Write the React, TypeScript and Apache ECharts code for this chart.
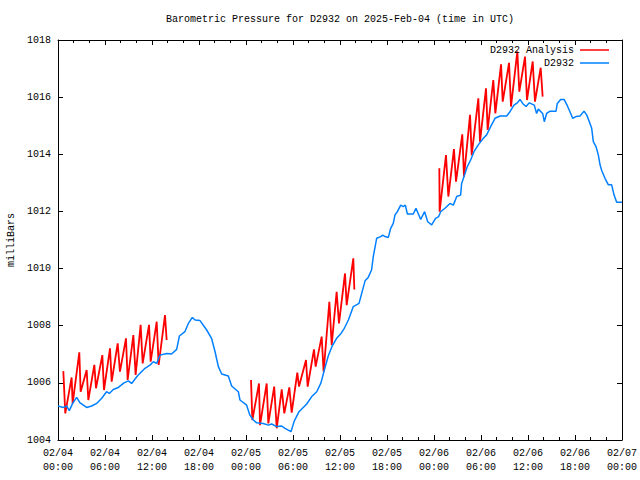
import React, { useEffect, useRef } from "react";
import * as echarts from "echarts";

// Hours since 2025-02-04 00:00 UTC
const xTickLabels = [
  "02/04\n00:00", "02/04\n06:00", "02/04\n12:00", "02/04\n18:00",
  "02/05\n00:00", "02/05\n06:00", "02/05\n12:00", "02/05\n18:00",
  "02/06\n00:00", "02/06\n06:00", "02/06\n12:00", "02/06\n18:00",
  "02/07\n00:00",
];

const obsHours = [
  0, 0.68, 1.1, 1.44, 1.87, 2.38, 2.81, 3.66, 4.3, 4.94, 5.58, 6.2, 6.55, 7.06, 7.7,
  8.43, 8.98, 9.4, 10.13, 11.1, 11.74, 12.17, 12.6, 13.0, 13.9, 14.5, 15.15, 15.5,
  16.2, 16.64, 17.15, 17.5, 18.13, 18.98, 19.6, 20.05, 20.47, 20.9, 21.74, 22.17,
  23.02, 23.23, 24.08, 24.5, 24.93, 25.36, 26.2, 26.85, 27.28, 27.92, 28.56, 28.98,
  29.74, 30.17, 30.77, 31.75, 32.39, 33.03, 33.57, 34.0, 34.5, 35.0, 35.57, 36.13,
  36.55, 37.07, 37.7, 38.43, 38.77, 39.2, 39.6, 40.03, 40.25, 40.68, 41.2, 41.45,
  41.75, 42.17, 42.47, 42.8, 43.02, 43.32, 43.75, 44.08, 44.34, 44.6, 45.36, 45.7,
  46.3, 46.8, 47.2, 47.7, 48.2, 48.6, 48.85, 49.4, 50.04, 50.47, 50.9, 51.4, 51.53,
  51.96, 52.25, 52.68, 53.1, 53.65, 54.3, 54.72, 55.23, 55.79, 56.43, 57.28, 57.7,
  58.21, 58.64, 58.98, 59.32, 59.75, 60.17, 60.8, 61.1, 61.32, 61.87, 62.08, 62.38,
  62.81, 63.58, 63.74, 64.17, 64.6, 65.02, 65.45, 65.7, 66.13, 66.64, 67.15, 67.49,
  67.83, 68.13, 68.34, 68.68, 68.98, 69.2, 69.41, 69.83, 70.26, 70.68, 70.98, 71.32, 72,
];
const obsValues = [
  1005.19, 1005.14, 1005.19, 1005.03, 1005.28, 1005.49, 1005.3, 1005.14, 1005.19, 1005.28,
  1005.46, 1005.69, 1005.63, 1005.77, 1005.84, 1006.0, 1006.07, 1005.98, 1006.24, 1006.51,
  1006.62, 1006.74, 1006.68, 1006.97, 1007.03, 1007.01, 1007.17, 1007.64, 1007.79, 1008.08,
  1008.29, 1008.2, 1008.18, 1007.85, 1007.56, 1007.09, 1006.57, 1006.31, 1006.24, 1005.89,
  1005.69, 1005.4, 1005.22, 1004.87, 1004.7, 1004.6, 1004.58, 1004.52, 1004.56, 1004.47,
  1004.49, 1004.41, 1004.29, 1004.67, 1004.99, 1005.26, 1005.52, 1005.69, 1006.0, 1006.45,
  1006.94, 1007.29, 1007.56, 1007.73, 1007.91, 1008.2, 1008.67, 1008.78, 1009.13, 1009.57,
  1009.69, 1009.95, 1010.42, 1011.06, 1011.12, 1011.17, 1011.12, 1011.09, 1011.41, 1011.58,
  1011.88, 1011.99, 1012.22, 1012.17, 1012.22, 1011.91, 1011.91, 1012.11, 1011.72, 1011.99,
  1011.64, 1011.53, 1011.76, 1011.82, 1011.99, 1012.11, 1012.28, 1012.22, 1012.52, 1012.57,
  1012.98, 1013.33, 1013.57, 1013.8, 1014.09, 1014.33, 1014.56, 1014.68, 1014.97, 1015.26,
  1015.34, 1015.34, 1015.49, 1015.72, 1015.8, 1015.92, 1015.78, 1015.67, 1015.8, 1015.72,
  1015.43, 1015.58, 1015.43, 1015.14, 1015.43, 1015.51, 1015.51, 1015.78, 1015.92, 1015.92,
  1015.7, 1015.43, 1015.26, 1015.32, 1015.34, 1015.51, 1015.38, 1015.14, 1014.91, 1014.44,
  1014.27, 1013.97, 1013.63, 1013.43, 1013.16, 1012.93, 1012.93, 1012.58, 1012.32, 1012.32,
];

// Analysis runs: alternating peak / trough points
const analysis1Hours = [
  0.68, 0.93, 1.74, 1.87, 2.72, 2.89, 3.66, 3.87, 4.64, 4.85, 5.66, 5.87, 6.64, 6.85,
  7.62, 7.91, 8.68, 8.89, 9.62, 9.91, 10.55, 10.81, 11.62, 11.83, 12.6, 12.85, 13.66, 13.87,
];
const analysis1Values = [
  1006.41, 1004.93, 1006.19, 1005.28, 1007.07, 1005.69, 1006.45, 1005.4, 1006.63, 1005.81,
  1006.97, 1005.75, 1007.21, 1006.04, 1007.38, 1006.39, 1007.56, 1006.1, 1007.67, 1006.28,
  1008.03, 1006.68, 1008.03, 1006.74, 1008.14, 1006.63, 1008.37, 1007.5,
];
const analysis2Hours = [
  24.64, 24.81, 25.66, 25.79, 26.64, 26.85, 27.6, 27.92, 28.56, 28.89, 29.53, 29.83,
  30.55, 30.77, 31.66, 31.87, 32.68, 32.89, 33.66, 33.91, 34.64, 34.94, 35.57, 35.87,
  36.64, 36.85, 37.7, 37.83,
];
const analysis2Values = [
  1006.1, 1004.7, 1005.98, 1004.52, 1005.98, 1004.58, 1005.87, 1004.41, 1005.77, 1004.93,
  1005.84, 1004.96, 1006.36, 1005.87, 1006.8, 1005.87, 1007.17, 1006.57, 1007.62, 1006.39,
  1008.84, 1007.33, 1009.19, 1008.08, 1009.83, 1008.72, 1010.36, 1009.27,
];
const analysis3Hours = [
  48.68, 48.72, 49.53, 49.83, 50.55, 50.81, 51.61, 51.83, 52.6, 52.81, 53.66, 53.87,
  54.64, 54.85, 55.57, 55.83, 56.56, 56.77, 57.58, 57.83, 58.64, 58.89, 59.62, 59.87,
  60.6, 60.89, 61.62, 61.87,
];
const analysis3Values = [
  1013.51, 1011.99, 1013.97, 1012.52, 1014.18, 1013.04, 1014.7, 1013.22, 1015.38, 1013.97,
  1015.96, 1014.44, 1016.31, 1014.85, 1016.6, 1015.43, 1017.15, 1015.84, 1017.2, 1015.67,
  1017.6, 1016.19, 1017.42, 1015.9, 1017.25, 1015.84, 1017.03, 1016.02,
];

const FONT = "Liberation Mono, DejaVu Sans Mono, monospace";
const RED = "#ff0000";
const BLUE = "#0080ff";

function zip(xs: number[], ys: number[]) {
  return xs.map((x, i) => [x, ys[i]]);
}

export default function App() {
  const ref = useRef<HTMLDivElement>(null);
  useEffect(() => {
    if (!ref.current) return;
    const chart = echarts.init(ref.current, undefined, { renderer: "svg" });
    const axisCommon = {
      axisLine: { show: true, onZero: false, lineStyle: { color: "#000", width: 1 } },
      splitLine: { show: false },
    };
    const xBase = {
      type: "value",
      min: 0,
      max: 72,
      interval: 6,
      ...axisCommon,
      axisTick: { show: true, inside: true, length: 5, lineStyle: { color: "#000" } },
      minorTick: { show: true, splitNumber: 3, length: 3, lineStyle: { color: "#000" } },
    };
    const yBase = {
      type: "value",
      min: 1004,
      max: 1018,
      interval: 2,
      ...axisCommon,
      axisTick: { show: true, inside: true, length: 5, lineStyle: { color: "#000" } },
    };
    const analysisSeries = [
      zip(analysis1Hours, analysis1Values),
      zip(analysis2Hours, analysis2Values),
      zip(analysis3Hours, analysis3Values),
    ].map((d) => ({
      type: "line",
      name: "D2932 Analysis",
      data: d,
      showSymbol: false,
      color: RED,
      lineStyle: { color: RED, width: 1.8 },
      xAxisIndex: 0,
      yAxisIndex: 0,
    }));
    const legendCommon = {
      orient: "vertical",
      align: "right",
      icon: "rect",
      itemWidth: 29,
      itemHeight: 1.5,
      padding: 0,
      selectedMode: false,
      textStyle: { fontFamily: FONT, fontSize: 10, color: "#000", lineHeight: 12, padding: [0, 1, 0, 0] },
    };
    chart.setOption({
      animation: false,
      backgroundColor: "#fff",
      grid: { left: 58, right: 18, top: 40, bottom: 40, containLabel: false, outerBoundsMode: "none" },
      xAxis: [
        {
          ...xBase,
          position: "bottom",
          axisLabel: {
            show: true,
            margin: 6,
            fontFamily: FONT,
            fontSize: 10,
            lineHeight: 14,
            color: "#000",
            showMinLabel: true,
            showMaxLabel: true,
            formatter: (v: number) => xTickLabels[Math.round(v / 6)] ?? "",
          },
        },
        { ...xBase, position: "top", axisLabel: { show: false } },
      ],
      yAxis: [
        {
          ...yBase,
          position: "left",
          name: "milliBars",
          nameLocation: "middle",
          nameRotate: 90,
          nameGap: 42,
          nameTextStyle: { fontFamily: FONT, fontSize: 10, color: "#000" },
          axisLabel: {
            show: true,
            margin: 7,
            fontFamily: FONT,
            fontSize: 10,
            color: "#000",
            showMinLabel: true,
            showMaxLabel: true,
            formatter: (v: number) => String(Math.round(v)),
          },
        },
        { ...yBase, position: "right", axisLabel: { show: false } },
      ],
      legend: [
        { ...legendCommon, data: ["D2932 Analysis"], right: 31, top: 44 },
        { ...legendCommon, data: ["D2932"], right: 31, top: 57 },
      ],
      graphic: [
        {
          type: "text",
          x: 340,
          y: 19,
          style: {
            text: "Barometric Pressure for D2932 on 2025-Feb-04 (time in UTC)",
            textAlign: "center",
            textVerticalAlign: "middle",
            fontFamily: FONT,
            fontSize: 10,
            fill: "#000",
          },
        },
      ],
      series: [
        ...analysisSeries,
        {
          type: "line",
          name: "D2932",
          data: zip(obsHours, obsValues),
          showSymbol: false,
          color: BLUE,
          lineStyle: { color: BLUE, width: 1.5 },
          xAxisIndex: 0,
          yAxisIndex: 0,
        },
      ],
    });
    return () => chart.dispose();
  }, []);
  return (
    <div
      ref={ref}
      style={{ position: "fixed", left: 0, top: 0, width: 640, height: 480, background: "#fff" }}
    />
  );
}
